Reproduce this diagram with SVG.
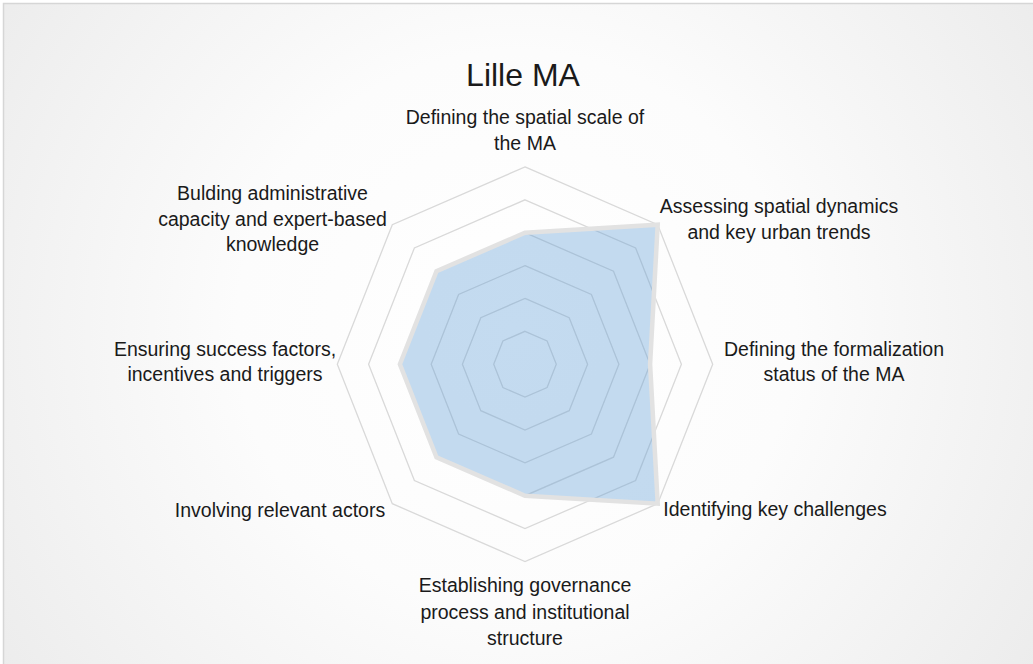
<svg xmlns="http://www.w3.org/2000/svg" width="1033" height="664" viewBox="0 0 1033 664">
<defs>
<radialGradient id="bg" cx="516" cy="330" r="620" gradientUnits="userSpaceOnUse">
<stop offset="0" stop-color="#ffffff"/>
<stop offset="0.45" stop-color="#fcfcfc"/>
<stop offset="1" stop-color="#ececec"/>
</radialGradient>
</defs>
<style>
.grid{fill:none;stroke:#d9d9d9;stroke-width:1.3}
.lbl{font-family:"Liberation Sans",Arial,sans-serif;font-size:19.5px;fill:#1a1a1a;text-anchor:middle}
.title{font-family:"Liberation Sans",Arial,sans-serif;font-size:32px;fill:#1a1a1a;text-anchor:middle}
</style>
<rect x="0" y="0" width="1033" height="664" fill="#ffffff"/>
<rect x="3.5" y="3.5" width="1040" height="670" fill="url(#bg)" stroke="#d6d6d6" stroke-width="1.5"/>
<g id="title"><text class="title" x="523" y="86">Lille MA</text></g>
<g id="grid">
<polygon class="grid" points="525,166.9 657.7,224.7 712.7,364.2 657.7,503.7 525,561.5 392.3,503.7 337.3,364.2 392.3,224.7"/>
<polygon class="grid" points="525,199.8 635.6,247.9 681.4,364.2 635.6,480.5 525,528.6 414.4,480.5 368.6,364.2 414.4,247.9"/>
<polygon class="grid" points="525,232.7 613.5,271.2 650.1,364.2 613.5,457.2 525,495.7 436.5,457.2 399.9,364.2 436.5,271.2"/>
<polygon class="grid" points="525,265.6 591.4,294.4 618.9,364.2 591.4,434 525,462.9 458.6,434 431.2,364.2 458.6,294.4"/>
<polygon class="grid" points="525,298.4 569.2,317.7 587.6,364.2 569.2,410.7 525,430 480.8,410.7 462.4,364.2 480.8,317.7"/>
<polygon class="grid" points="525,331.3 547.1,340.9 556.3,364.2 547.1,387.5 525,397.1 502.9,387.5 493.7,364.2 502.9,340.9"/>
</g>
<g id="series">
<polygon points="525,232.7 657.7,224.7 650.1,364.2 657.7,503.7 525,495.7 436.5,457.2 399.9,364.2 436.5,271.2" fill="#5b9bd5" fill-opacity="0.36" stroke="#e2e2e2" stroke-width="4.5" stroke-linejoin="miter"/>
</g>
<g id="label-scale"><text class="lbl" x="525" y="124">Defining the spatial scale of</text><text class="lbl" x="525" y="150">the MA</text></g>
<g id="label-dynamics"><text class="lbl" x="779" y="213">Assessing spatial dynamics</text><text class="lbl" x="779" y="239">and key urban trends</text></g>
<g id="label-formalization"><text class="lbl" x="834" y="356">Defining the formalization</text><text class="lbl" x="834" y="381">status of the MA</text></g>
<g id="label-challenges"><text class="lbl" x="775" y="516">Identifying key challenges</text></g>
<g id="label-governance"><text class="lbl" x="525" y="592">Establishing governance</text><text class="lbl" x="525" y="618.5">process and institutional</text><text class="lbl" x="525" y="645">structure</text></g>
<g id="label-actors"><text class="lbl" x="280" y="516.5">Involving relevant actors</text></g>
<g id="label-success"><text class="lbl" x="225" y="356">Ensuring success factors,</text><text class="lbl" x="225" y="381">incentives and triggers</text></g>
<g id="label-capacity"><text class="lbl" x="272.5" y="200">Bulding administrative</text><text class="lbl" x="272.5" y="225.5">capacity and expert-based</text><text class="lbl" x="272.5" y="251">knowledge</text></g>
</svg>
